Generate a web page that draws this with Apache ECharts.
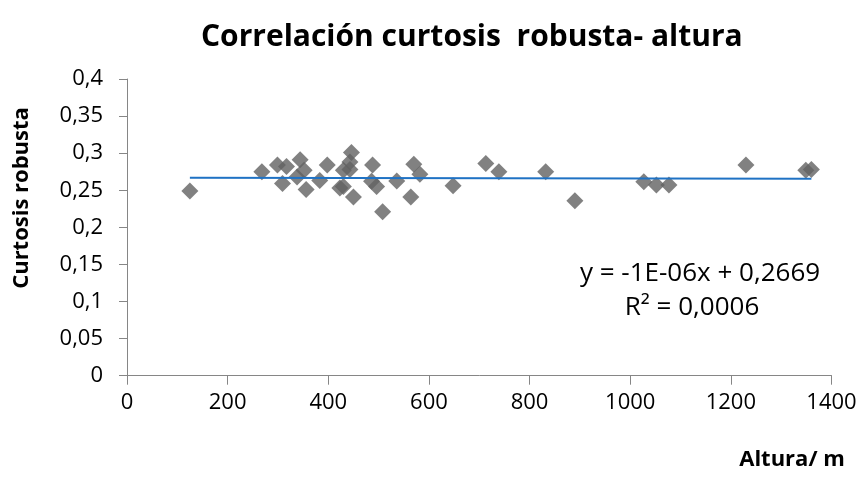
<!DOCTYPE html>
<html>
<head>
<meta charset="utf-8">
<script src="https://cdn.jsdelivr.net/npm/echarts@6/dist/echarts.min.js"></script>
<style>
  html, body { margin: 0; padding: 0; background: #fff; }
  #main { width: 865px; height: 479px; }
</style>
</head>
<body>
<div id="main"></div>
<script>
// altura (m) y curtosis robusta de cada punto
var altura = [125, 268, 299, 309, 317, 338, 344, 352, 356, 383, 398, 423, 430, 430, 443, 443, 446, 450,
              486, 488, 496, 508, 536, 564, 570, 582, 648, 713, 739, 832, 890, 1027, 1052, 1077, 1230, 1349, 1360];
var curtosis = [0.249, 0.275, 0.284, 0.259, 0.282, 0.268, 0.291, 0.277, 0.251, 0.263, 0.284, 0.253, 0.277, 0.255, 0.288, 0.278, 0.301, 0.241,
                0.262, 0.284, 0.255, 0.221, 0.2625, 0.241, 0.285, 0.2715, 0.256, 0.286, 0.275, 0.275, 0.236, 0.2615, 0.257, 0.257, 0.284, 0.277, 0.278];

// linea de tendencia (ecuacion mostrada en el grafico)
var pendiente = -1e-6;
var intercepto = 0.2669;
var ecuacion = ['y = -1E-06x + 0,2669', 'R² = 0,0006'];

var xTicks = [0, 200, 400, 600, 800, 1000, 1200, 1400];
var yTicks = [0, 0.05, 0.1, 0.15, 0.2, 0.25, 0.3, 0.35, 0.4];

var puntos = altura.map(function (a, i) { return [a, curtosis[i]]; });
var xMin = Math.min.apply(null, altura), xMax = Math.max.apply(null, altura);
var tendencia = [[xMin, intercepto + pendiente * xMin], [xMax, intercepto + pendiente * xMax]];

var fuente = '"Open Sans", Calibri, sans-serif';
var gris = '#868686';

var myChart = echarts.init(document.getElementById('main'));

var option = {
    backgroundColor: '#fff',
    animation: false,
    title: {
        text: 'Correlación curtosis  robusta- altura',
        left: 196,
        top: 17,
        textStyle: { fontFamily: fuente, fontWeight: 'bold', fontSize: 30, color: '#000' }
    },
    grid: { left: 127, right: 33.5, top: 79, bottom: 103.3 },
    xAxis: {
        type: 'value',
        min: xTicks[0],
        max: xTicks[xTicks.length - 1],
        interval: 200,
        splitLine: { show: false },
        axisLine: { show: true, lineStyle: { color: gris, width: 1 } },
        axisTick: { show: true, length: 9, lineStyle: { color: gris } },
        axisLabel: { margin: 16, fontFamily: fuente, fontSize: 22, color: '#000',
                     formatter: function (v) { return String(v); } }
    },
    yAxis: {
        type: 'value',
        min: yTicks[0],
        max: yTicks[yTicks.length - 1],
        interval: 0.05,
        splitLine: { show: false },
        axisLine: { show: true, lineStyle: { color: gris, width: 1 } },
        axisTick: { show: true, length: 8, lineStyle: { color: gris } },
        axisLabel: {
            margin: 24, fontFamily: fuente, fontSize: 22, color: '#000',
            formatter: function (v) { return String(+v.toFixed(2)).replace('.', ','); }
        }
    },
    graphic: [
        {
            type: 'text', x: 22, y: 198, rotation: Math.PI / 2,
            style: { text: 'Curtosis robusta', fontFamily: fuente, fontWeight: 'bold', fontSize: 22,
                     fill: '#000', textAlign: 'center', textVerticalAlign: 'middle' }
        },
        {
            type: 'text', x: 792, y: 460,
            style: { text: 'Altura/ m', fontFamily: fuente, fontWeight: 'bold', fontSize: 22,
                     fill: '#000', textAlign: 'center', textVerticalAlign: 'middle' }
        },
        {
            type: 'text', x: 700, y: 274,
            style: { text: ecuacion[0], fontFamily: fuente, fontSize: 26, fill: '#000',
                     textAlign: 'center', textVerticalAlign: 'middle' }
        },
        {
            type: 'text', x: 692, y: 308,
            style: { text: ecuacion[1], fontFamily: fuente, fontSize: 26, fill: '#000',
                     textAlign: 'center', textVerticalAlign: 'middle' }
        }
    ],
    series: [
        {
            name: 'Curtosis robusta',
            type: 'scatter',
            symbol: 'diamond',
            symbolSize: 17,
            itemStyle: { color: '#626262' },
            data: puntos
        },
        {
            name: 'Tendencia',
            type: 'line',
            symbol: 'none',
            lineStyle: { color: '#1f72c4', width: 2 },
            data: tendencia
        }
    ]
};

myChart.setOption(option);
</script>
</body>
</html>
